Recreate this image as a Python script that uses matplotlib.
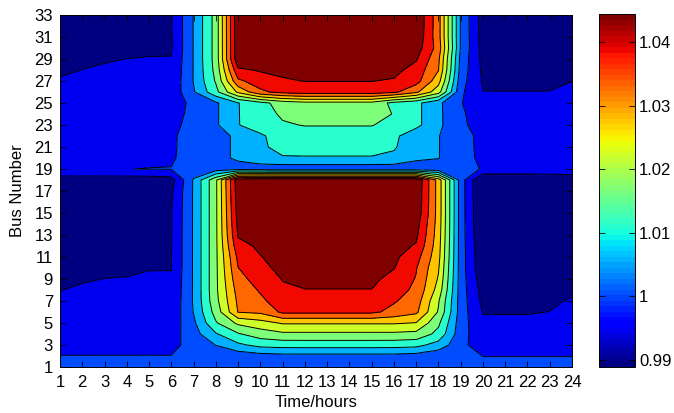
import numpy as np
import matplotlib
matplotlib.use("Agg")
import matplotlib.pyplot as plt
from matplotlib.colors import Normalize
from matplotlib.cm import ScalarMappable

plt.rcParams['font.family'] = ['Liberation Sans', 'DejaVu Sans']

hours = [1, 2, 3, 4, 5, 6, 7, 8, 9, 10, 11, 12, 13, 14, 15, 16, 17, 18, 19, 20, 21, 22, 23, 24]
buses = list(range(1, 34))
ytick_vals = [1, 3, 5, 7, 9, 11, 13, 15, 17, 19, 21, 23, 25, 27, 29, 31, 33]
contour_levels = [0.995, 1.0, 1.005, 1.01, 1.015, 1.02, 1.025, 1.03, 1.035, 1.04]
cbar_ticks = [0.99, 1.0, 1.01, 1.02, 1.03, 1.04]
cbar_ticklabels = ['0.99', '1', '1.01', '1.02', '1.03', '1.04']
cbar_range = [0.9889, 1.0444]

# Voltage (p.u.) of each bus over 24 hours
main_feeder = [  # buses 1-18
    [1.0005, 1.0005, 1.0005, 1.0005, 1.0005, 1.0005, 1.0005, 1.0005, 1.0005, 1.0005, 1.0005, 1.0005, 1.0005, 1.0005, 1.0005, 1.0005, 1.0005, 1.0005, 1.0005, 1.0005, 1.0005, 1.0005, 1.0005, 1.0005],
    [1.0001, 1.0001, 1.0001, 1.0001, 1.0001, 1.0001, 1.0010, 1.0020, 1.0020, 1.0030, 1.0035, 1.0035, 1.0035, 1.0035, 1.0035, 1.0035, 1.0030, 1.0015, 1.0008, 0.99997, 0.99997, 0.99997, 0.99997, 0.99997],
    [0.9985, 0.9986, 0.9987, 0.9987, 0.9988, 0.9985, 1.0020, 1.0051, 1.0090, 1.0115, 1.0120, 1.0121, 1.0121, 1.0121, 1.0121, 1.0120, 1.0115, 1.0080, 1.0015, 0.9970, 0.9980, 0.9980, 0.9987, 0.9988],
    [0.9975, 0.9978, 0.9980, 0.9980, 0.9981, 0.9978, 1.0030, 1.0095, 1.0145, 1.0175, 1.0190, 1.0190, 1.0190, 1.0190, 1.0190, 1.0190, 1.0185, 1.0135, 1.0020, 0.9965, 0.9972, 0.9972, 0.9978, 0.9980],
    [0.9970, 0.9972, 0.9974, 0.9974, 0.9976, 0.9970, 1.0040, 1.0145, 1.0210, 1.0230, 1.0255, 1.0255, 1.0255, 1.0255, 1.0255, 1.0255, 1.0248, 1.0160, 1.0022, 0.9959, 0.9960, 0.9960, 0.9962, 0.9968],
    [0.9958, 0.9962, 0.9965, 0.9965, 0.9967, 0.9962, 1.0052, 1.0170, 1.0302, 1.0310, 1.0360, 1.0360, 1.0360, 1.0360, 1.0360, 1.0335, 1.0310, 1.0195, 1.0025, 0.9947, 0.9947, 0.9947, 0.99505, 0.9958],
    [0.99535, 0.9958, 0.9961, 0.9961, 0.9963, 0.9958, 1.0055, 1.0185, 1.0310, 1.0340, 1.0375, 1.0380, 1.0380, 1.0380, 1.0380, 1.0355, 1.0325, 1.0205, 1.0025, 0.9938, 0.9938, 0.9938, 0.9945, 0.9953],
    [0.99495, 0.9953, 0.9956, 0.9957, 0.9958, 0.9955, 1.0055, 1.0190, 1.0320, 1.0355, 1.0393, 1.0399, 1.0399, 1.0399, 1.0399, 1.0370, 1.0340, 1.0230, 1.0025, 0.9930, 0.9930, 0.9930, 0.9938, 0.9945],
    [0.9945, 0.9948, 0.99502, 0.9951, 0.9953, 0.9953, 1.0055, 1.0190, 1.0335, 1.0370, 1.0402, 1.0410, 1.0410, 1.0410, 1.0410, 1.0385, 1.0347, 1.0245, 1.0025, 0.9920, 0.9920, 0.9920, 0.9929, 0.9937],
    [0.9940, 0.9943, 0.9946, 0.9946, 0.9949, 0.9949, 1.0055, 1.0190, 1.0349, 1.0385, 1.0415, 1.0420, 1.0420, 1.0420, 1.0420, 1.0402, 1.0353, 1.0255, 1.0025, 0.9910, 0.9910, 0.9910, 0.9920, 0.9930],
    [0.9939, 0.9942, 0.9945, 0.9945, 0.9948, 0.9949, 1.0055, 1.0190, 1.0362, 1.0398, 1.0420, 1.0425, 1.0425, 1.0425, 1.0425, 1.0410, 1.0370, 1.0265, 1.0025, 0.9908, 0.9908, 0.9908, 0.9918, 0.9928],
    [0.9938, 0.9941, 0.9944, 0.9944, 0.9947, 0.9948, 1.0055, 1.0190, 1.0385, 1.0408, 1.0425, 1.0430, 1.0430, 1.0430, 1.0430, 1.0418, 1.0395, 1.0270, 1.0025, 0.9905, 0.9905, 0.9905, 0.9915, 0.9926],
    [0.9934, 0.9937, 0.9940, 0.9940, 0.9944, 0.9948, 1.0055, 1.0190, 1.0405, 1.0420, 1.0430, 1.0435, 1.0435, 1.0435, 1.0435, 1.0425, 1.0410, 1.0275, 1.0025, 0.9898, 0.9898, 0.9898, 0.9909, 0.9920],
    [0.9933, 0.9936, 0.9939, 0.9939, 0.9943, 0.9947, 1.0055, 1.0190, 1.0412, 1.0425, 1.0435, 1.0440, 1.0440, 1.0440, 1.0440, 1.0430, 1.0420, 1.0278, 1.0025, 0.9896, 0.9896, 0.9896, 0.9907, 0.9918],
    [0.9932, 0.9935, 0.9938, 0.9938, 0.9942, 0.9947, 1.0055, 1.0190, 1.0420, 1.0430, 1.0439, 1.0442, 1.0442, 1.0442, 1.0442, 1.0435, 1.0435, 1.0280, 1.0025, 0.9894, 0.9894, 0.9894, 0.9905, 0.9916],
    [0.9930, 0.9933, 0.9936, 0.9936, 0.9940, 0.9946, 1.0055, 1.0190, 1.0425, 1.0435, 1.0442, 1.0443, 1.0443, 1.0443, 1.0443, 1.0440, 1.0440, 1.0280, 1.0025, 0.9892, 0.9892, 0.9892, 0.9903, 0.9914],
    [0.9927, 0.9929, 0.9931, 0.9931, 0.9935, 0.9942, 1.0055, 1.0190, 1.0430, 1.0440, 1.0443, 1.0444, 1.0444, 1.0444, 1.0444, 1.0442, 1.0442, 1.0280, 1.0025, 0.9890, 0.9890, 0.9890, 0.9901, 0.9912],
    [0.9923, 0.9923, 0.9923, 0.9923, 0.9923, 0.9930, 1.0055, 1.0190, 1.0435, 1.0444, 1.0444, 1.0444, 1.0444, 1.0444, 1.0444, 1.0444, 1.0444, 1.0280, 1.0025, 0.9889, 0.9889, 0.9889, 0.9895, 0.9905],
]
lateral_19_22 = [
    [0.9998, 0.9998, 0.9998, 0.99995, 1.0001, 1.0002, 1.0020, 1.0025, 1.0030, 1.0025, 1.0020, 1.0020, 1.0020, 1.0020, 1.0020, 1.0020, 1.0020, 1.0015, 1.0008, 0.99985, 0.99985, 0.99985, 0.99985, 0.99985],
    [0.9992, 0.9992, 0.9992, 0.9992, 0.9992, 0.9992, 1.0030, 1.0035, 1.0058, 1.0080, 1.0095, 1.0095, 1.0095, 1.0095, 1.0095, 1.0090, 1.0060, 1.0052, 1.0012, 0.9993, 0.9993, 0.9993, 0.9993, 0.9993],
    [0.9990, 0.9990, 0.9990, 0.9990, 0.9990, 0.9990, 1.0030, 1.0035, 1.0058, 1.0090, 1.0118, 1.0124, 1.0124, 1.0124, 1.0124, 1.0105, 1.0068, 1.0052, 1.0013, 0.9991, 0.9991, 0.9991, 0.9991, 0.9991],
    [0.9989, 0.9989, 0.9989, 0.9989, 0.9989, 0.9989, 1.0031, 1.0035, 1.0058, 1.0092, 1.0125, 1.0130, 1.0130, 1.0130, 1.0130, 1.0110, 1.0070, 1.0052, 1.0014, 0.9990, 0.9990, 0.9990, 0.9990, 0.9990],
]
lateral_23_25 = [
    [0.9980, 0.9980, 0.9980, 0.9980, 0.9980, 0.9980, 1.0025, 1.0043, 1.0098, 1.0125, 1.0145, 1.0152, 1.0152, 1.0152, 1.0152, 1.0135, 1.0113, 1.0060, 1.0010, 0.9978, 0.9978, 0.9978, 0.9978, 0.9978],
    [0.9975, 0.9975, 0.9975, 0.9975, 0.9975, 0.9975, 1.0018, 1.0043, 1.0098, 1.0130, 1.0157, 1.0168, 1.0168, 1.0168, 1.0168, 1.0148, 1.0113, 1.0060, 1.0008, 0.9972, 0.9972, 0.9972, 0.9972, 0.9972],
    [0.9972, 0.9972, 0.9972, 0.9972, 0.9972, 0.9972, 1.0014, 1.0043, 1.0098, 1.0135, 1.0170, 1.0185, 1.0185, 1.0185, 1.0185, 1.0135, 1.0113, 1.0060, 1.0003, 0.9965, 0.9965, 0.9965, 0.9965, 0.9965],
]
lateral_26_33 = [
    [0.9962, 0.9964, 0.9966, 0.9967, 0.9968, 0.9965, 1.0045, 1.0135, 1.0260, 1.0340, 1.0365, 1.0375, 1.0375, 1.0375, 1.0375, 1.0360, 1.0310, 1.0220, 1.0010, 0.99505, 0.99505, 0.99505, 0.99505, 0.9960],
    [0.9954, 0.9957, 0.9960, 0.9961, 0.9962, 0.9960, 1.0052, 1.0155, 1.0340, 1.0375, 1.0395, 1.0401, 1.0401, 1.0401, 1.0401, 1.0395, 1.0370, 1.0270, 1.0020, 0.9945, 0.9945, 0.9945, 0.9945, 0.99495],
    [0.9943, 0.99505, 0.9953, 0.9956, 0.9957, 0.9956, 1.0052, 1.0165, 1.0390, 1.0405, 1.0410, 1.0420, 1.0420, 1.0420, 1.0420, 1.0415, 1.0380, 1.0302, 1.0030, 0.9940, 0.9940, 0.9940, 0.9940, 0.9940],
    [0.9938, 0.9943, 0.9948, 0.99502, 0.9951, 0.99515, 1.0052, 1.0170, 1.0440, 1.0440, 1.0440, 1.0440, 1.0440, 1.0440, 1.0440, 1.0440, 1.0405, 1.0310, 1.0035, 0.9935, 0.9935, 0.9935, 0.9935, 0.9935],
    [0.9933, 0.9937, 0.9941, 0.9944, 0.99465, 0.9946, 1.0052, 1.0170, 1.0442, 1.0442, 1.0442, 1.0442, 1.0442, 1.0442, 1.0442, 1.0442, 1.0425, 1.0330, 1.0045, 0.9930, 0.9930, 0.9930, 0.9930, 0.9930],
    [0.9930, 0.9934, 0.9938, 0.9941, 0.9944, 0.9946, 1.0052, 1.0170, 1.0443, 1.0443, 1.0443, 1.0443, 1.0443, 1.0443, 1.0443, 1.0443, 1.0440, 1.0320, 1.0045, 0.9928, 0.9928, 0.9928, 0.9928, 0.9928],
    [0.9928, 0.9932, 0.9936, 0.9940, 0.9943, 0.9947, 1.0052, 1.0170, 1.0444, 1.0444, 1.0444, 1.0444, 1.0444, 1.0444, 1.0444, 1.0444, 1.0444, 1.0320, 1.0045, 0.9926, 0.9926, 0.9926, 0.9926, 0.9926],
    [0.9927, 0.9931, 0.9935, 0.9939, 0.9942, 0.9947, 1.0052, 1.0170, 1.0444, 1.0444, 1.0444, 1.0444, 1.0444, 1.0444, 1.0444, 1.0444, 1.0444, 1.0320, 1.0045, 0.9925, 0.9925, 0.9925, 0.9925, 0.9925],
]

V = np.array(main_feeder + lateral_19_22 + lateral_23_25 + lateral_26_33)

W, H = 674, 413
fig = plt.figure(figsize=(W / 100, H / 100), dpi=100)
ax = fig.add_axes([60 / W, (H - 367) / H, 512 / W, 352 / H])

cmap = plt.get_cmap('jet')
fill_levels = [0.97] + contour_levels + [1.06]
fill_colors = [cmap(i / 10) for i in range(len(contour_levels) + 1)]
X, Y = np.meshgrid(hours, buses)
ax.contourf(X, Y, V, levels=fill_levels, colors=fill_colors)
ax.contour(X, Y, V, levels=contour_levels, colors='k', linewidths=0.7)

ax.set_xlim(1, 24)
ax.set_ylim(1, 33)
ax.set_xticks(hours)
ax.set_yticks(ytick_vals)
ax.tick_params(direction='in', top=True, right=True, length=4, width=0.6,
               labelsize=12, pad=5)
ax.tick_params(axis='x', pad=5.5)
for s in ax.spines.values():
    s.set_linewidth(0.7)
ax.set_xlabel('Time/hours', fontsize=12, labelpad=4)
ax.set_ylabel('Bus Number', fontsize=12, labelpad=7)

cax = fig.add_axes([599 / W, (H - 367) / H, 36 / W, 353 / H])
sm = ScalarMappable(norm=Normalize(cbar_range[0], cbar_range[1]),
                    cmap=plt.get_cmap('jet', 64))
cb = fig.colorbar(sm, cax=cax, ticks=cbar_ticks)
cb.ax.set_yticklabels(cbar_ticklabels)
cb.ax.tick_params(direction='in', left=True, right=True, length=4, width=0.6,
                  labelsize=12, pad=3)
cb.outline.set_linewidth(0.7)

fig.savefig('out.png', dpi=100)
